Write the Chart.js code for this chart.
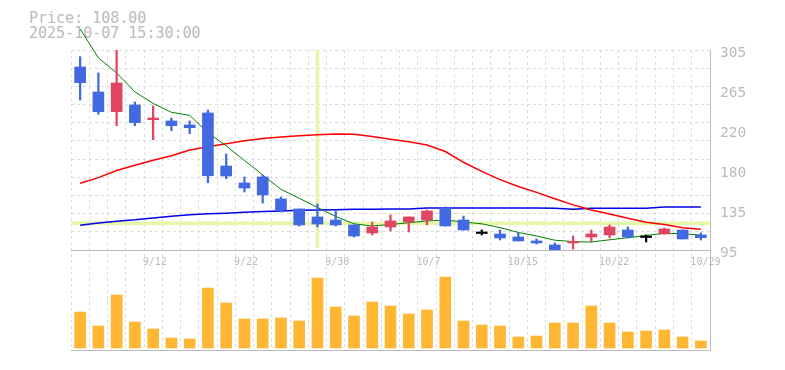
<!DOCTYPE html>
<html>
<head>
<meta charset="utf-8">
<script src="https://cdn.jsdelivr.net/npm/chart.js@4.4.1/dist/chart.umd.min.js"></script>
<style>
html,body{margin:0;padding:0;background:#fff;}
#wrap{position:relative;width:785px;height:370px;overflow:hidden;}
#hdr{position:absolute;left:29px;top:11px;font-family:"DejaVu Sans Mono",monospace;font-size:15px;line-height:15px;color:#bbb;white-space:pre;z-index:0;}
#c{position:absolute;left:0;top:0;z-index:1;}
</style>
</head>
<body>
<div id="wrap">
  <div id="hdr"></div>
  <canvas id="c" width="785" height="370"></canvas>
</div>
<script>
// ---- data ----
const headerPrice = 'Price: 108.00';
const headerTime = '2025-10-07 15:30:00';

const dates = ['9/8','9/9','9/10','9/11','9/12','9/16','9/17','9/18','9/19','9/22',
  '9/24','9/25','9/26','9/29','9/30','10/1','10/2','10/3','10/6','10/7',
  '10/8','10/9','10/10','10/14','10/15','10/16','10/17','10/20','10/21','10/22',
  '10/23','10/24','10/27','10/28','10/29'];
const tickLabels = ['9/12','9/22','9/30','10/7','10/15','10/22','10/29'];

const opens  = [287.2,260.9,240.2,247.3,231.8,230.5,226.3,238.9,183.2,165.4,
  171.7,148.6,138.1,129.7,126.5,121.3,112.9,119.2,124.4,126.5,
  139.1,126.5,113.9,111.8,108.7,104.5,100.3,102.4,108.7,110.8,
  116.0,109.7,111.8,116.0,110.8];
const highs  = [298.0,280.9,305.0,250.4,246.2,233.6,230.5,242.0,195.8,171.7,
  173.8,150.7,138.1,143.3,137.0,121.3,124.4,131.8,129.7,137.0,
  140.2,130.7,116.0,116.0,112.9,106.6,102.4,109.7,116.0,121.3,
  119.2,110.8,118.1,116.0,112.9];
const lows   = [252.5,237.5,225.5,225.5,210.8,220.3,217.1,165.7,169.9,155.9,
  144.4,134.9,120.2,119.2,120.2,108.7,110.8,115.0,113.9,121.3,
  120.2,116.0,110.8,105.5,104.5,101.3,95.0,96.1,103.4,107.6,
  107.6,103.4,111.8,106.6,105.5];
const closes = [270.7,240.2,270.4,228.7,233.6,225.5,223.4,173.0,172.7,160.1,
  152.8,137.0,121.3,122.3,121.3,109.7,119.2,125.5,129.7,136.0,
  120.2,116.0,113.9,107.6,104.5,102.4,95.3,103.4,111.8,119.2,
  108.7,109.7,117.1,106.6,108.0];

const maShort = [327.0,296.8,280.9,261.1,248.9,239.6,236.4,218.1,204.4,189.0,
  173.8,158.7,149.3,139.7,130.2,122.5,120.2,121.8,123.6,125.5,
  126.5,124.4,122.5,118.5,113.4,109.7,105.3,103.8,103.4,105.7,
  107.9,110.3,112.5,112.2,110.5];
const maMid = [165.0,171.0,178.4,184.0,189.3,194.0,200.0,203.5,206.5,209.8,
  212.0,213.7,214.9,216.0,216.7,216.5,214.1,211.4,208.7,205.3,
  198.4,187.1,177.5,168.9,161.7,155.5,148.9,142.4,137.1,132.8,
  128.3,124.1,121.7,118.4,116.7];
const maLong = [120.9,123.4,125.3,126.7,128.6,130.5,132.0,133.0,133.7,134.7,
  135.4,136.0,136.7,137.0,137.2,137.7,137.8,138.0,138.0,139.1,
  139.1,139.1,139.1,139.1,139.1,139.2,138.8,137.7,138.8,138.8,
  138.8,138.8,140.2,140.2,140.2];

const volumes = [36,22,53,26,19,10,9,60,45,29,
  29,30,27,70,41,32,46,42,34,38,
  71,27,23,22,11,12,25,25,42,25,
  16,17,18,11,7];

const priceTickValues = [95,137,179,221,263,305];
const priceTickLabels = ['95','135','180','220','265','305'];
const priceMin = 95, priceMax = 305;
const crosshairIndex = 13;
const crosshairPrice = 123;

// ---- page ----
document.getElementById('hdr').textContent = headerPrice + '\n' + headerTime;

const UP = '#e04562', DOWN = '#4169e1', DOJI = '#000000';
function candleColor(ctx) {
  const i = ctx.dataIndex;
  if (closes[i] > opens[i]) return UP;
  if (closes[i] < opens[i]) return DOWN;
  return DOJI;
}

const gridDivisions = 11;
const gridValues = [];
for (let k = 0; k <= gridDivisions; k++) gridValues.push(priceMin + (priceMax - priceMin) * k / gridDivisions);

const crosshair = {
  id: 'crosshair',
  beforeDatasetsDraw(chart) {
    const {ctx, chartArea, scales} = chart;
    const x = scales.x.getPixelForValue(crosshairIndex);
    const y = scales.y.getPixelForValue(crosshairPrice);
    const yTop = scales.y.getPixelForValue(priceMax);
    const yBot = scales.y.getPixelForValue(priceMin);
    ctx.save();
    ctx.strokeStyle = '#e6f5a8';
    ctx.lineWidth = 3.5;
    ctx.beginPath();
    ctx.moveTo(x, yTop); ctx.lineTo(x, yBot - 2);
    ctx.moveTo(chartArea.left, y); ctx.lineTo(chartArea.right, y);
    ctx.stroke();
    ctx.restore();
  }
};

Chart.defaults.font.family = '"DejaVu Sans Mono", monospace';

new Chart(document.getElementById('c'), {
  type: 'bar',
  data: {
    labels: dates,
    datasets: [
      {type:'line', data: maShort, borderColor:'#008000', borderWidth:1, pointRadius:0, tension:0, clip:false, order:5, yAxisID:'y'},
      {type:'line', data: maMid, borderColor:'#ff0000', borderWidth:1.5, pointRadius:0, tension:0, order:5, yAxisID:'y'},
      {type:'line', data: maLong, borderColor:'#0000ee', borderWidth:1.5, pointRadius:0, tension:0, order:5, yAxisID:'y'},
      {type:'bar', data: lows.map((l, i) => [l, highs[i]]), backgroundColor: candleColor, barThickness:1.6, grouped:false, order:3, yAxisID:'y'},
      {type:'bar', data: opens.map((o, i) => [o, closes[i]]), backgroundColor: candleColor, barThickness:11, minBarLength:1.5, grouped:false, order:2, yAxisID:'y'},
      {type:'bar', data: volumes, backgroundColor:'#ffb733', barThickness:11, grouped:false, order:2, yAxisID:'yv'}
    ]
  },
  options: {
    responsive:false, animation:false, devicePixelRatio:1, events:[],
    layout:{padding:{left:71, top:50, right:0, bottom:20}},
    plugins:{legend:{display:false}, tooltip:{enabled:false}},
    scales: {
      x: {
        type:'category', offset:true, position:'bottom',
        grid:{offset:true, color:'#dddddd', drawTicks:false},
        border:{display:true, color:'#bbbbbb', dash:[3,3]},
        ticks:{display:false},
        afterFit(s){ s.height = 0; }
      },
      x2: {
        type:'category', offset:true, position:{y:95},
        grid:{display:true, drawOnChartArea:false, drawTicks:false, offset:true},
        border:{display:true, color:'#bbbbbb'},
        ticks:{autoSkip:false, maxRotation:0, minRotation:0, align:'start', labelOffset:-10.5, padding:6,
          color:'#bbbbbb', font:{size:10},
          callback:(v, i) => tickLabels.includes(dates[i]) ? dates[i] : ''}
      },
      y: {
        position:'right', min:-10, max:305,
        afterBuildTicks(s){ s.ticks = priceTickValues.map(v => ({value:v})); },
        grid:{display:true, drawOnChartArea:false, drawTicks:false},
        border:{display:true, color:'#bbbbbb'},
        ticks:{padding:10, labelOffset:3, color:'#bbbbbb', font:{size:14.5}, autoSkip:false,
          callback:(v, i) => priceTickLabels[i]},
        afterFit(s){ s.width = 75; }
      },
      yg: {
        position:'right', min:-10, max:305,
        afterBuildTicks(s){ s.ticks = gridValues.map(v => ({value:v})); },
        grid:{display:true, color:'#dddddd', drawTicks:false},
        border:{display:false, dash:[3,3]},
        ticks:{display:false},
        afterFit(s){ s.width = 0; }
      },
      yv: {
        position:'right', min:-2, max:298,
        grid:{display:false}, border:{display:false}, ticks:{display:false},
        afterFit(s){ s.width = 0; }
      }
    }
  },
  plugins:[crosshair]
});
</script>
</body>
</html>
